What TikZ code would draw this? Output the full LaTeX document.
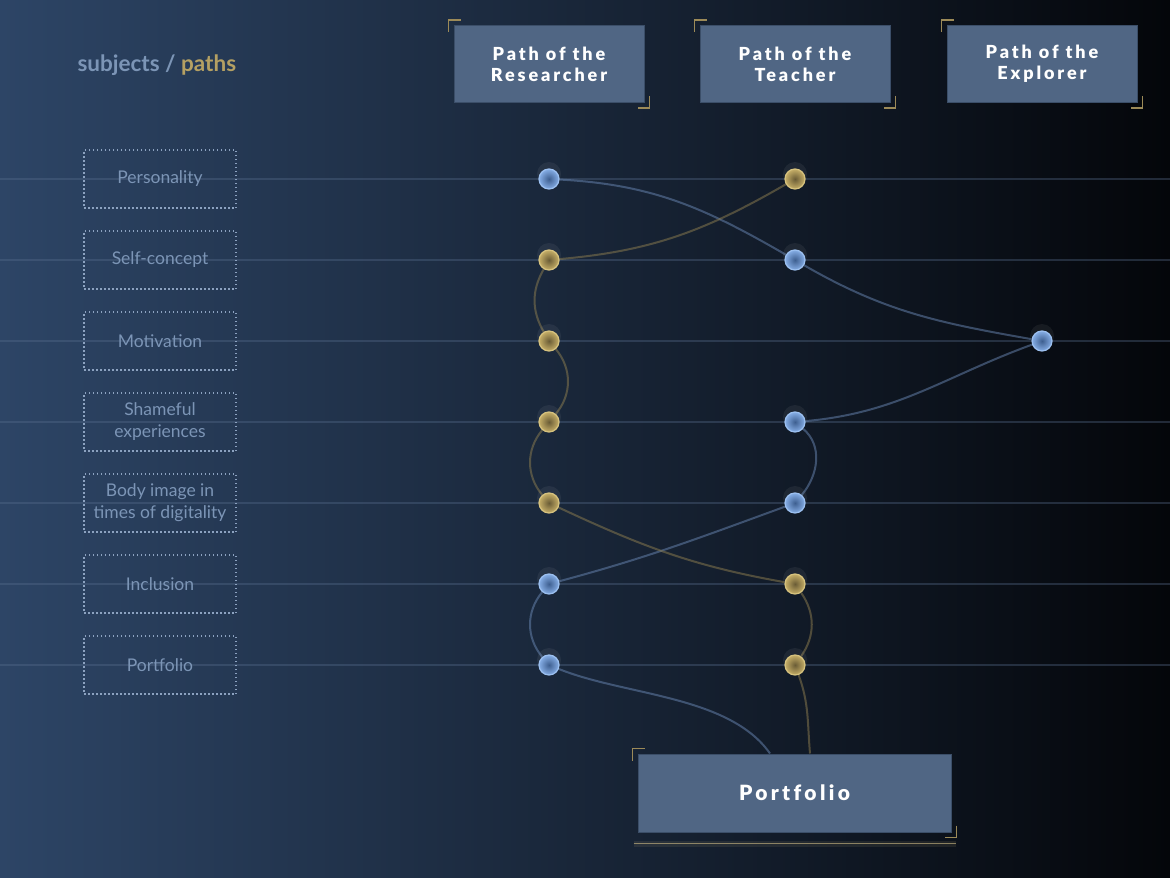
\documentclass[tikz,border=0pt]{standalone}
\usepackage{fontspec}
\setmainfont{Lato}
\newfontfamily\headfont[LetterSpace=16, Ligatures=NoCommon, BoldFont={Lato Black}]{Lato}
\usetikzlibrary{positioning}
\usetikzlibrary{calc}
\definecolor{bgleft}{HTML}{2D4566}
\definecolor{bgmid}{HTML}{1A2739}
\definecolor{bgright}{HTML}{04060A}
\definecolor{rowline}{HTML}{5A7090}
\definecolor{subjtext}{HTML}{7C95B6}
\definecolor{subjdots}{HTML}{8CA2C0}
\definecolor{goldtext}{HTML}{B4A063}
\definecolor{glowline}{HTML}{D2BE86}
\definecolor{boxfill}{HTML}{506684}
\definecolor{boxline}{HTML}{3B4E68}
\definecolor{corner}{HTML}{9C8A58}
\definecolor{bluein}{HTML}{3E5F90}
\definecolor{blueout}{HTML}{86AEE6}
\definecolor{bluering}{HTML}{9CC0F0}
\definecolor{goldin}{HTML}{6A5C36}
\definecolor{goldout}{HTML}{C6AF68}
\definecolor{goldring}{HTML}{D6C27E}
\definecolor{bluelink}{HTML}{6A88B5}
\definecolor{goldlink}{HTML}{8F7F50}
\pgfdeclarelayer{bg}
\pgfdeclarelayer{links}
\pgfsetlayers{bg,links,main}
\tikzset{
  subj/.style = {draw=subjdots, line width=1.5pt, dash pattern=on 1.5pt off 2.5pt,
    minimum width=152pt, minimum height=58pt, inner sep=2pt, align=center,
    text=subjtext, font=\fontsize{17.5}{22}\selectfont},
  pathbox/.style = {fill=boxfill, draw=boxline, line width=1pt,
    minimum width=190pt, minimum height=77pt, align=center, text=white,
    font=\headfont\bfseries\fontsize{18}{21}\selectfont},
  bluedot/.style = {circle, inner sep=0, minimum size=20pt, draw=bluering,
    line width=1.2pt, inner color=bluein, outer color=blueout},
  golddot/.style = {circle, inner sep=0, minimum size=20pt, draw=goldring,
    line width=1.2pt, inner color=goldin, outer color=goldout},
  bluepath/.style = {draw=bluelink, line width=2pt, opacity=0.5},
  goldpath/.style = {draw=goldlink, line width=2pt, opacity=0.5}
}
\newcommand{\corners}[1]{%
  \draw[corner, line width=1.6pt] ([shift={(-5,7)}]#1.north west) -- ([shift={(-5,-5)}]#1.north west) -- ([shift={(7,-5)}]#1.north west);
  \draw[corner, line width=1.6pt] ([shift={(5,-7)}]#1.south east) -- ([shift={(5,5)}]#1.south east) -- ([shift={(-7,5)}]#1.south east);
}

\begin{document}
\begin{tikzpicture}[x=1pt, y=-1pt]
    \useasboundingbox (0,0) rectangle (1170,878);
    \begin{pgfonlayer}{bg}
      \shade[left color=bgleft, middle color=bgmid, right color=bgright] (0,0) rectangle (1170,878);
      \foreach \i in {1,...,7} {
        \draw[rowline, line width=1.3pt, opacity=0.35] (0,{179+81*(\i-1)}) -- (1170,{179+81*(\i-1)});
      }
    \end{pgfonlayer}
    % title
    \node[anchor=west, font=\bfseries\fontsize{22.5}{26}\selectfont] (title) at (74,65)
      {\color{subjtext}subjects / \color{goldtext}paths};
    % subjects
    \foreach \i/\txt in {1/Personality, 2/Self-concept, 3/Motivation,
        4/{Shameful\\experiences}, 5/{Body image in\\times of digitality},
        6/Inclusion, 7/Portfolio} {
      \node[subj] (s\i) at (160,{179+81*(\i-1)}) {\txt};
    }
    % paths
    \node[pathbox] (res) at (549,64) {Path of the\\Researcher};
    \node[pathbox] (tea) at (795,64) {Path of the\\Teacher};
    \node[pathbox] (exp) at (1042,64) {Path of the\\Explorer};
    \node[pathbox, minimum width=313pt, minimum height=78pt,
      font=\headfont\bfseries\fontsize{21}{24}\selectfont] (port) at (794.5,793) {Portfolio};
    \corners{res}
    \corners{tea}
    \corners{exp}
    \corners{port}
    % glow under portfolio
    \draw[glowline, line width=6pt, opacity=0.10] ([shift={(-4,11)}]port.south west) -- ([shift={(4,11)}]port.south east);
    \draw[glowline, line width=1.6pt, opacity=0.6] ([shift={(-4,11)}]port.south west) -- ([shift={(4,11)}]port.south east);
    % dots
    \foreach \n/\x/\r/\c in {r1/549/1/blue, t1/795/1/gold, r2/549/2/gold, t2/795/2/blue,
        r3/549/3/gold, e3/1042/3/blue, r4/549/4/gold, t4/795/4/blue,
        r5/549/5/gold, t5/795/5/blue, r6/549/6/blue, t6/795/6/gold,
        r7/549/7/blue, t7/795/7/gold} {
      \fill[white, opacity=0.06] (\x,{179+81*(\r-1)-5}) circle (12); % glow
      \node[\c dot] (\n) at (\x,{179+81*(\r-1)}) {};
    }
    \begin{pgfonlayer}{links}
      \draw[bluepath] (r1) to[out=-3, in=150] (t2) to[out=-30, in=170] (e3)
        to[out=200, in=5] (t4) to[out=-40, in=50] (t5) to[out=200, in=15] (r6)
        to[out=-130, in=130] (r7) to[out=-22, in=125, looseness=0.8] ([xshift=-24.5]port.north);
      \draw[goldpath] (t1) to[out=210, in=5] (r2) to[out=-120, in=120] (r3)
        to[out=-50, in=50] (r4) to[out=-130, in=130] (r5) to[out=-25, in=170] (t6)
        to[out=-55, in=55] (t7) to[out=-70, in=95] ([xshift=15.5]port.north);
    \end{pgfonlayer}
\end{tikzpicture}
\end{document}
